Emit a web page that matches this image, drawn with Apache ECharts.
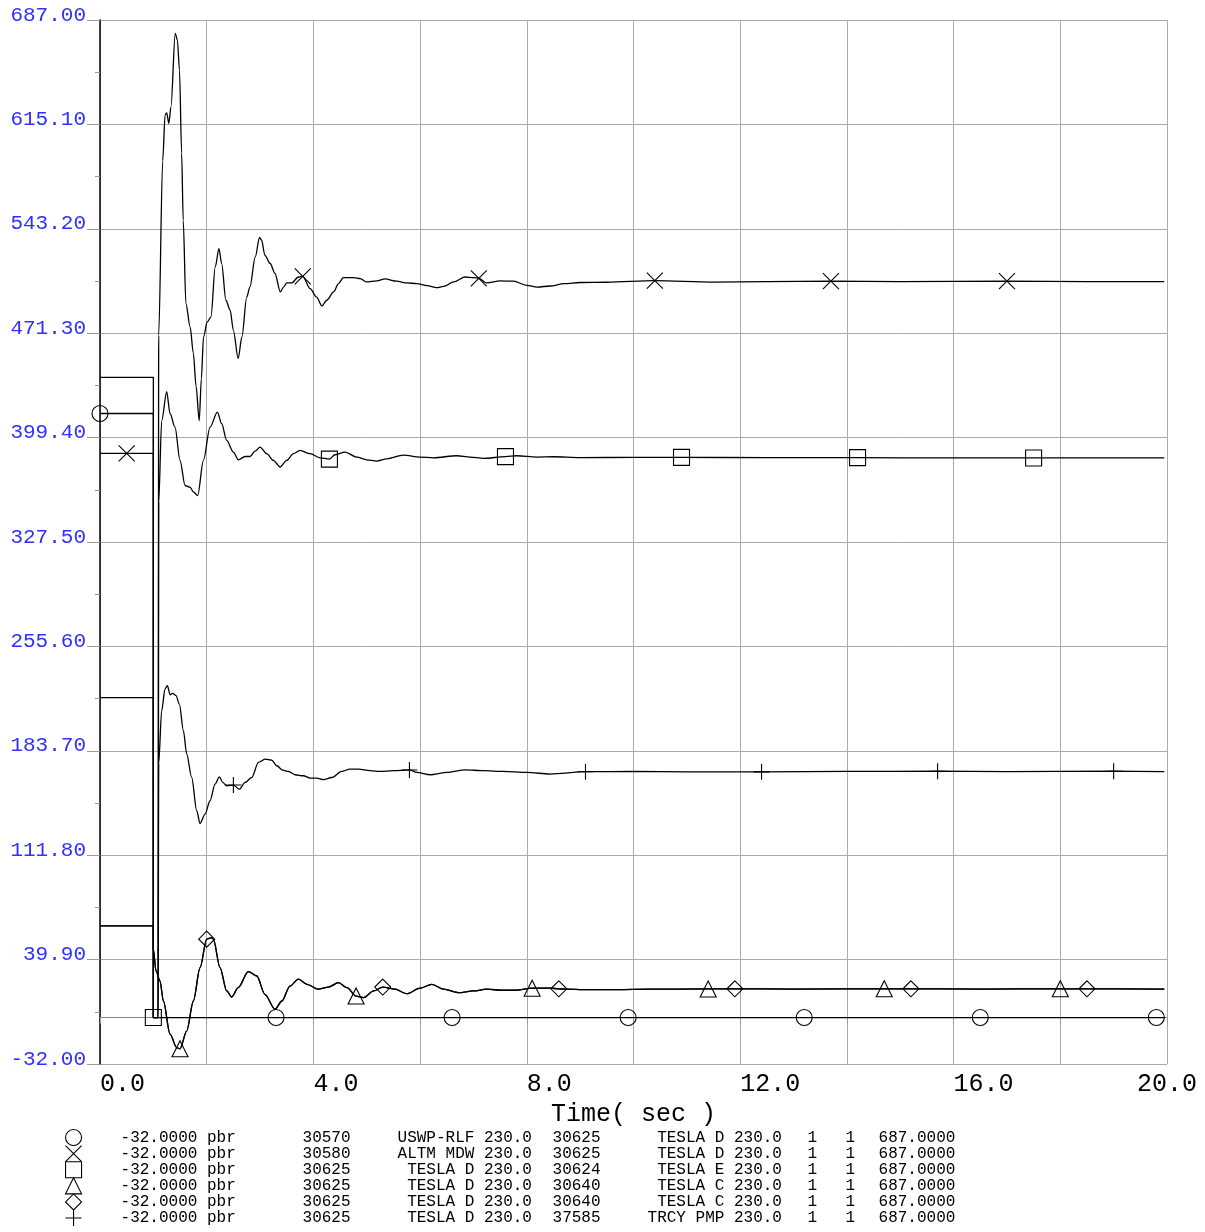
<!DOCTYPE html>
<html><head><meta charset="utf-8">
<script src="https://cdn.jsdelivr.net/npm/echarts@6/dist/echarts.min.js"></script>
<style>html,body{margin:0;padding:0;background:#fff}#c{width:1205px;height:1232px}</style>
</head><body><div id="c"></div>
<script>
// ---- axes ----
const xMin = 0, xMax = 20, xStep = 2, xLabelStep = 4;
const yMin = -32.0, yMax = 687.0, yStep = 71.9;
const xName = 'Time( sec )';

// ---- series values [time (s), value] ----
const uswpRlf = [[0,416],[1.0,416],[1.0,0],[3.3,0],[6.6,0],[9.9,0],[13.2,0],[16.5,0],[19.8,0],[19.95,0]];

const altmMdw = [[0,388.5],[0.5,388.5],[1.0,388.5],[1.0,0],[1.09,0],[1.1,470],[1.175,590],[1.22,621.5],[1.25,623],[1.29,615.8],[1.33,627.2],[1.41,677.8],[1.45,673.2],[1.49,652.5],[1.53,595.3],[1.56,549.1],[1.61,491.9],[1.69,475.4],[1.75,457.4],[1.80,435],[1.86,411],[1.90,440],[1.94,468.7],[2.01,479],[2.08,482.5],[2.16,516.9],[2.23,529.6],[2.28,519.3],[2.36,494],[2.44,487.1],[2.5,473.3],[2.59,453.8],[2.66,468.7],[2.75,496.2],[2.81,503.1],[2.91,523.8],[2.99,537.2],[3.03,535.3],[3.09,525],[3.19,519.3],[3.28,512.4],[3.38,499.7],[3.44,503.1],[3.5,505.9],[3.59,505.9],[3.72,510],[3.8,510.5],[3.94,502],[4.06,496.2],[4.16,490],[4.25,494],[4.38,499.7],[4.47,505.5],[4.56,509.6],[4.75,509.6],[4.88,508.9],[4.99,506.6],[5.19,507.3],[5.34,508.7],[5.56,507.1],[5.75,505.9],[5.94,505.5],[6.13,504.1],[6.31,502.7],[6.44,503.5],[6.63,506.6],[6.84,510],[7.0,509.6],[7.1,509.1],[7.25,505.9],[7.5,507.3],[7.75,507.1],[8.0,504.3],[8.19,503.1],[8.44,503.8],[8.7,505.5],[9.0,506.2],[9.5,506.4],[10.4,507.5],[11.5,506.5],[12.5,506.8],[13.7,507.1],[15.0,506.8],[17.0,507.1],[18.5,506.8],[19.95,506.8]];

const teslaE = [[0,440.9],[1.0,440.9],[1.0,0],[1.09,0],[1.1,355],[1.156,411],[1.25,431],[1.313,416],[1.406,406.6],[1.5,383.7],[1.594,366.4],[1.688,365.3],[1.75,362],[1.831,359.5],[1.938,383.7],[2.063,406.6],[2.2,417],[2.281,409],[2.375,397.5],[2.5,389.4],[2.594,384.1],[2.719,386.4],[2.813,386.4],[2.906,390.1],[3.0,392.9],[3.125,388.3],[3.25,383.7],[3.375,379.1],[3.5,383.7],[3.625,388.3],[3.75,390.6],[3.938,388.3],[4.125,385.5],[4.3,384.6],[4.406,387.6],[4.594,389.4],[4.813,386],[5.0,384.1],[5.188,383.2],[5.375,384.8],[5.688,387.3],[6.0,386],[6.25,385.5],[6.688,386.9],[6.938,386],[7.188,385.1],[7.6,386.3],[7.813,386.9],[8.188,386],[8.5,386.2],[9.0,385.6],[10.0,385.8],[10.9,385.8],[12.5,385.6],[14.2,385.6],[16.0,385.4],[17.5,385.4],[19.95,385.4]];

const teslaC = [[0,63.1],[1.0,63.1],[1.0,47],[1.05,32],[1.125,25.2],[1.188,11.4],[1.313,-11.4],[1.438,-20.8],[1.5,-21.5],[1.625,-9.3],[1.75,11.4],[1.875,34.3],[2.0,54],[2.094,55],[2.125,53.9],[2.25,34.3],[2.375,18.3],[2.47,14.1],[2.59,20.6],[2.78,31.6],[2.94,28.6],[3.09,16],[3.28,5.7],[3.41,11.4],[3.56,21.7],[3.72,26.4],[3.88,22.9],[4.09,19.5],[4.28,21],[4.47,24],[4.63,20.6],[4.8,14.8],[4.94,13.7],[5.13,18.3],[5.3,21],[5.53,19.5],[5.75,16.4],[6.0,20.2],[6.22,22.9],[6.44,19.5],[6.72,17.1],[7.0,18.3],[7.25,19.5],[7.56,18.8],[7.81,18.8],[8.1,20.2],[8.44,20.2],[8.6,19.8],[8.75,19.5],[9.06,19.2],[9.69,19.2],[10.31,19.5],[11.4,19.7],[11.9,19.8],[13.0,19.6],[14.7,19.8],[15.2,19.8],[16.5,19.6],[18.0,19.8],[18.5,19.8],[19.95,19.6]];

const trcyPmp = [[0,220.3],[1.0,220.3],[1.0,0],[1.09,0],[1.1,175],[1.156,211.3],[1.219,226.3],[1.263,228.6],[1.313,222.3],[1.363,223.3],[1.425,221.7],[1.488,215.9],[1.563,197.5],[1.625,181.5],[1.719,165.3],[1.813,142.4],[1.875,133.6],[1.969,140.1],[2.063,149.3],[2.156,160.8],[2.238,165.8],[2.3,161.9],[2.375,159.6],[2.5,160.1],[2.613,157.3],[2.719,161.9],[2.844,165.3],[2.969,175.7],[3.094,178],[3.219,177.3],[3.313,173.4],[3.425,170.4],[3.531,169.5],[3.656,167.2],[3.813,166.5],[3.938,164.9],[4.063,164.9],[4.188,163.8],[4.344,165.3],[4.531,169.5],[4.688,171.1],[4.844,171.1],[5.063,170],[5.25,169.5],[5.5,170],[5.8,170.5],[5.938,168.8],[6.188,167.2],[6.5,168.8],[6.844,170.6],[7.188,170],[7.563,169.5],[8.0,168.8],[8.438,167.7],[9.1,169.3],[10.0,169.5],[11.0,169.2],[12.4,169.2],[14.0,169.5],[15.7,169.6],[17.0,169.4],[19.0,169.6],[19.95,169.4]];

// ---- marker times for each curve ----
const marksCircle   = [0, 3.3, 6.6, 9.9, 13.2, 16.5, 19.8];
const marksCross    = [0.5, 3.8, 7.1, 10.4, 13.7, 17.0];
const marksSquare   = [1.0, 4.3, 7.6, 10.9, 14.2, 17.5];
const marksTriangle = [1.5, 4.8, 8.1, 11.4, 14.7, 18.0];
const marksDiamond  = [2.0, 5.3, 8.6, 11.9, 15.2, 18.5];
const marksPlus     = [2.5, 5.8, 9.1, 12.4, 15.7, 19.0];

// ---- legend table ----
const legMin    = ['-32.0000 pbr','-32.0000 pbr','-32.0000 pbr','-32.0000 pbr','-32.0000 pbr','-32.0000 pbr'];
const legFrom   = ['30570','30580','30625','30625','30625','30625'];
const legFromNm = ['USWP-RLF 230.0','ALTM MDW 230.0','TESLA D 230.0','TESLA D 230.0','TESLA D 230.0','TESLA D 230.0'];
const legTo     = ['30625','30625','30624','30640','30640','37585'];
const legToNm   = ['TESLA D 230.0','TESLA D 230.0','TESLA E 230.0','TESLA C 230.0','TESLA C 230.0','TRCY PMP 230.0'];
const legCkt    = ['1','1','1','1','1','1'];
const legSec    = ['1','1','1','1','1','1'];
const legMax    = ['687.0000','687.0000','687.0000','687.0000','687.0000','687.0000'];

const CROSS = 'path://M0,0L10,10M10,0L0,10';
const PLUS = 'path://M5,0L5,10M0,5L10,5';
const seriesDefs = [
  {name:'s1', pts:uswpRlf, marks:marksCircle, shape:'circle'},
  {name:'s2', pts:altmMdw, marks:marksCross, shape:CROSS},
  {name:'s3', pts:teslaE, marks:marksSquare, shape:'rect'},
  {name:'s4', pts:teslaC, marks:marksTriangle, shape:'triangle'},
  {name:'s5', pts:teslaC, marks:marksDiamond, shape:'diamond'},
  {name:'s6', pts:trcyPmp, marks:marksPlus, shape:PLUS}
];

function build(pts, marks, shape) {
  const flagged = new Set();
  marks.forEach(m => {
    let idx = -1;
    pts.forEach((p, i) => { if (Math.abs(p[0] - m) < 1e-6) idx = i; });
    if (idx >= 0) flagged.add(idx);
  });
  return pts.map((p, i) => flagged.has(i) ? {value: p, symbol: shape, symbolSize: 16} : {value: p, symbol: 'none'});
}

const mono = 'Liberation Mono';
const chart = echarts.init(document.getElementById('c'), null, {renderer: 'canvas'});

const series = seriesDefs.map(d => ({
  type: 'line', name: d.name, data: build(d.pts, d.marks, d.shape),
  symbol: d.shape, symbolSize: 16, showSymbol: true, showAllSymbol: true,
  smooth: 0.3, smoothMonotone: 'x',
  lineStyle: {color: '#000', width: 1.3},
  itemStyle: {color: 'rgba(0,0,0,0)', borderColor: '#000', borderWidth: 1.1},
  emphasis: {disabled: true}, silent: true, animation: false, clip: false
}));

const pad = (s, n) => s.padStart(n, ' ');
const rs = w => ({width: w, fontFamily: mono, fontSize: 16, lineHeight: 15, color: '#000'});
chart.setOption({
  animation: false,
  backgroundColor: '#fff',
  grid: {left: 100, right: 38, top: 20, bottom: 168, containLabel: false},
  xAxis: {
    type: 'value', min: xMin, max: xMax, interval: xStep,
    name: xName, nameLocation: 'middle', nameGap: 31,
    nameTextStyle: {fontFamily: mono, fontSize: 25, color: '#000', lineHeight: 25},
    axisLine: {show: true, lineStyle: {color: '#888', width: 1.2}},
    axisTick: {show: true, length: 6, lineStyle: {color: '#999'}},
    axisLabel: {
      fontFamily: mono, fontSize: 25, color: '#000', margin: 8, lineHeight: 25,
      align: 'left', alignMaxLabel: 'center',
      formatter: v => (Math.abs(v / xLabelStep - Math.round(v / xLabelStep)) < 1e-6) ? v.toFixed(1) : ''
    },
    splitLine: {show: true, lineStyle: {color: '#aaa', width: 1}}
  },
  yAxis: {
    type: 'value', min: yMin, max: yMax, interval: yStep,
    axisLine: {show: true, lineStyle: {color: '#000', width: 1.5}},
    axisTick: {show: true, length: 13, lineStyle: {color: '#999'}},
    minorTick: {show: true, splitNumber: 2, length: 5, lineStyle: {color: '#999'}},
    axisLabel: {
      fontFamily: mono, fontSize: 21, color: '#3030ff', margin: 14,
      verticalAlign: 'bottom', lineHeight: 10,
      formatter: v => v.toFixed(2)
    },
    splitLine: {show: true, lineStyle: {color: '#aaa', width: 1}}
  },
  legend: {
    show: true, orient: 'vertical', left: 65, top: 1129, height: 120, padding: 0,
    itemWidth: 16, itemHeight: 16, itemGap: -1, selectedMode: false,
    itemStyle: {color: 'rgba(0,0,0,0)', borderColor: '#000', borderWidth: 1.1},
    data: seriesDefs.map(d => ({name: d.name, icon: d.shape})),
    formatter: name => {
      const i = seriesDefs.findIndex(d => d.name === name);
      return '{p| }{a|' + legMin[i] + '}{b|' + legFrom[i] + '}{c|' + pad(legFromNm[i], 14) +
        '}{d|' + legTo[i] + '}{e|' + pad(legToNm[i], 14) + '}{f|' + legCkt[i] + '}{g|' + legSec[i] + '}{h|' + legMax[i] + '}';
    },
    textStyle: {
      fontFamily: mono, fontSize: 16, color: '#000', lineHeight: 15,
      rich: {p: rs(34), a: rs(182), b: rs(95), c: rs(155), d: rs(95), e: rs(160), f: rs(38), g: rs(33), h: rs(80)}
    }
  },
  series: series
});
</script></body></html>
